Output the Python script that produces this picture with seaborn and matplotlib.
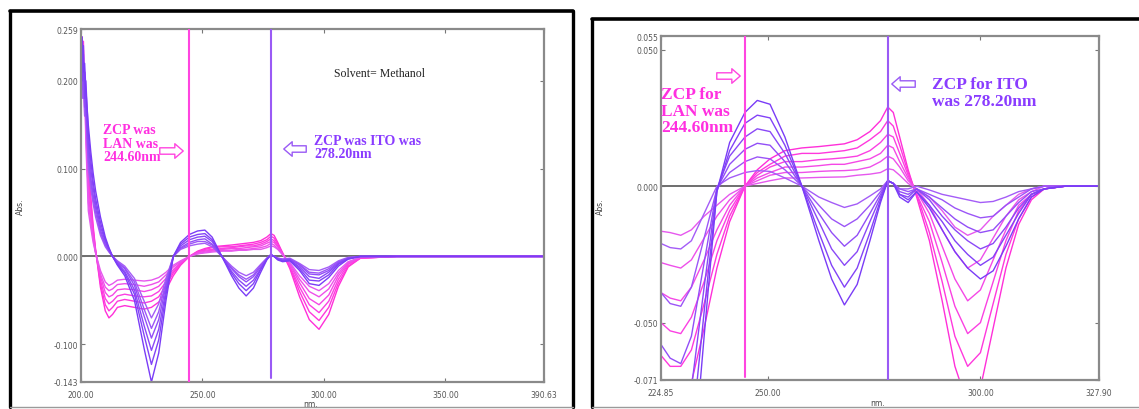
import numpy as np
import pandas as pd
import matplotlib
matplotlib.use("Agg")
import matplotlib.pyplot as plt
import seaborn as sns
from matplotlib.lines import Line2D

# ---------------- data : left panel (solvent methanol) ----------------
wl_left = [200.0, 200.5, 201.0, 201.5, 202.0, 203.0, 204.0, 205.0, 206.0, 208.0,
           210.0, 211.5, 213.0, 215.0, 218.0, 222.0, 226.0, 229.0, 232.0, 235.0,
           238.0, 241.0, 244.6, 248.0, 251.0, 254.0, 258.0, 262.0, 265.0, 268.0,
           271.0, 274.0, 276.5, 278.2, 279.5, 281.0, 283.0, 286.0, 290.0, 294.0,
           298.0, 302.0, 306.0, 310.0, 315.0, 330.0, 360.0, 390.63]

left_p0 = [0.255, 0.22, 0.235, 0.19, 0.16, 0.11, 0.07, 0.035, 0.008, -0.035,
           -0.062, -0.070, -0.066, -0.058, -0.056, -0.058, -0.060, -0.058, -0.052, -0.038,
           -0.022, -0.010, 0.000, 0.006, 0.009, 0.011, 0.012, 0.013, 0.014, 0.015,
           0.016, 0.018, 0.022, 0.026, 0.024, 0.016, 0.004, -0.014, -0.046, -0.072,
           -0.083, -0.066, -0.034, -0.012, -0.002, 0.0, 0.0, 0.0]
left_p1 = [0.24, 0.25, 0.20, 0.21, 0.15, 0.097, 0.062, 0.031, 0.007, -0.031,
           -0.055, -0.062, -0.058, -0.051, -0.049, -0.051, -0.053, -0.051, -0.046, -0.033,
           -0.019, -0.009, 0.000, 0.005, 0.008, 0.010, 0.011, 0.011, 0.012, 0.013,
           0.014, 0.016, 0.019, 0.023, 0.021, 0.014, 0.004, -0.012, -0.040, -0.063,
           -0.073, -0.058, -0.030, -0.011, -0.002, 0.0, 0.0, 0.0]
left_p2 = [0.23, 0.20, 0.245, 0.17, 0.18, 0.085, 0.054, 0.027, 0.006, -0.027,
           -0.048, -0.054, -0.051, -0.045, -0.043, -0.045, -0.046, -0.045, -0.040, -0.029,
           -0.017, -0.008, 0.000, 0.005, 0.007, 0.008, 0.009, 0.010, 0.011, 0.012,
           0.012, 0.014, 0.017, 0.020, 0.018, 0.012, 0.003, -0.011, -0.035, -0.055,
           -0.064, -0.051, -0.026, -0.009, -0.002, 0.0, 0.0, 0.0]
left_p3 = [0.26, 0.21, 0.19, 0.20, 0.14, 0.073, 0.046, 0.023, 0.005, -0.023,
           -0.041, -0.046, -0.044, -0.038, -0.037, -0.038, -0.040, -0.038, -0.034, -0.025,
           -0.015, -0.007, 0.000, 0.004, 0.006, 0.007, 0.008, 0.009, 0.009, 0.010,
           0.011, 0.012, 0.015, 0.017, 0.016, 0.011, 0.003, -0.009, -0.030, -0.048,
           -0.055, -0.044, -0.022, -0.008, -0.001, 0.0, 0.0, 0.0]
left_p4 = [0.21, 0.24, 0.22, 0.16, 0.17, 0.062, 0.039, 0.020, 0.004, -0.020,
           -0.035, -0.039, -0.037, -0.032, -0.031, -0.032, -0.034, -0.032, -0.029, -0.021,
           -0.012, -0.006, 0.000, 0.003, 0.005, 0.006, 0.007, 0.007, 0.008, 0.008,
           0.009, 0.010, 0.012, 0.015, 0.013, 0.009, 0.002, -0.008, -0.026, -0.040,
           -0.046, -0.037, -0.019, -0.007, -0.001, 0.0, 0.0, 0.0]
left_p5 = [0.20, 0.23, 0.18, 0.19, 0.13, 0.052, 0.033, 0.016, 0.004, -0.016,
           -0.029, -0.033, -0.031, -0.027, -0.026, -0.027, -0.028, -0.027, -0.024, -0.018,
           -0.010, -0.005, 0.000, 0.003, 0.004, 0.005, 0.006, 0.006, 0.007, 0.007,
           0.008, 0.008, 0.010, 0.012, 0.011, 0.008, 0.002, -0.007, -0.022, -0.034,
           -0.039, -0.031, -0.016, -0.006, -0.001, 0.0, 0.0, 0.0]

left_u0 = [0.24, 0.25, 0.21, 0.22, 0.19, 0.15, 0.12, 0.095, 0.075, 0.045,
           0.022, 0.010, 0.000, -0.010, -0.022, -0.050, -0.105, -0.143, -0.110, -0.050,
           0.000, 0.016, 0.025, 0.029, 0.030, 0.022, 0.000, -0.022, -0.036, -0.045,
           -0.036, -0.018, -0.004, 0.002, 0.000, -0.004, -0.006, -0.005, -0.016, -0.031,
           -0.033, -0.024, -0.011, -0.003, 0.000, 0.0, 0.0, 0.0]
left_u1 = [0.22, 0.20, 0.24, 0.18, 0.20, 0.14, 0.11, 0.085, 0.066, 0.039,
           0.019, 0.009, 0.000, -0.009, -0.019, -0.043, -0.090, -0.123, -0.095, -0.043,
           0.000, 0.014, 0.022, 0.025, 0.026, 0.019, 0.000, -0.019, -0.031, -0.039,
           -0.031, -0.015, -0.003, 0.002, 0.000, -0.003, -0.005, -0.004, -0.014, -0.027,
           -0.028, -0.021, -0.009, -0.003, 0.000, 0.0, 0.0, 0.0]
left_u2 = [0.25, 0.23, 0.20, 0.21, 0.17, 0.13, 0.10, 0.078, 0.060, 0.034,
           0.017, 0.008, 0.000, -0.008, -0.017, -0.038, -0.079, -0.107, -0.083, -0.038,
           0.000, 0.012, 0.019, 0.022, 0.023, 0.017, 0.000, -0.017, -0.027, -0.034,
           -0.027, -0.014, -0.003, 0.002, 0.000, -0.003, -0.005, -0.004, -0.012, -0.023,
           -0.025, -0.018, -0.008, -0.002, 0.000, 0.0, 0.0, 0.0]
left_u3 = [0.21, 0.19, 0.23, 0.17, 0.18, 0.12, 0.09, 0.070, 0.055, 0.030,
           0.014, 0.007, 0.000, -0.007, -0.014, -0.033, -0.068, -0.093, -0.072, -0.033,
           0.000, 0.010, 0.016, 0.019, 0.020, 0.014, 0.000, -0.014, -0.023, -0.029,
           -0.023, -0.012, -0.003, 0.002, 0.000, -0.003, -0.004, -0.003, -0.010, -0.020,
           -0.021, -0.016, -0.007, -0.002, 0.000, 0.0, 0.0, 0.0]
left_u4 = [0.19, 0.22, 0.18, 0.20, 0.16, 0.11, 0.085, 0.065, 0.050, 0.027,
           0.013, 0.006, 0.000, -0.006, -0.013, -0.029, -0.060, -0.082, -0.063, -0.029,
           0.000, 0.009, 0.014, 0.017, 0.017, 0.013, 0.000, -0.013, -0.021, -0.026,
           -0.021, -0.010, -0.002, 0.002, 0.000, -0.002, -0.003, -0.003, -0.009, -0.018,
           -0.019, -0.014, -0.006, -0.002, 0.000, 0.0, 0.0, 0.0]
left_u5 = [0.23, 0.18, 0.20, 0.16, 0.17, 0.10, 0.078, 0.060, 0.045, 0.024,
           0.011, 0.005, 0.000, -0.005, -0.011, -0.025, -0.051, -0.070, -0.054, -0.025,
           0.000, 0.008, 0.012, 0.014, 0.015, 0.011, 0.000, -0.011, -0.018, -0.022,
           -0.018, -0.009, -0.002, 0.002, 0.000, -0.002, -0.003, -0.002, -0.008, -0.015,
           -0.016, -0.012, -0.005, -0.001, 0.000, 0.0, 0.0, 0.0]

left_xticks = [200.0, 250.0, 300.0, 350.0, 390.63]
left_yticks = [0.259, 0.200, 0.100, 0.000, -0.100, -0.143]

# ---------------- data : right panel ----------------
wl_right = [224.85, 227.0, 229.5, 232.0, 235.0, 238.0, 241.0, 244.6, 247.5, 250.5,
            254.0, 258.0, 262.0, 265.0, 268.0, 271.0, 274.0, 276.5, 278.2, 279.5,
            281.0, 283.0, 285.0, 288.0, 291.0, 294.0, 297.0, 300.0, 303.0, 306.0,
            309.0, 312.0, 315.0, 320.0, 327.9]

right_p0 = [-0.075, -0.079, -0.080, -0.072, -0.052, -0.030, -0.013, 0.000, 0.006, 0.010,
            0.013, 0.014, 0.0145, 0.015, 0.0155, 0.017, 0.020, 0.024, 0.029, 0.027,
            0.018, 0.006, -0.004, -0.020, -0.042, -0.066, -0.080, -0.074, -0.052, -0.030,
            -0.014, -0.005, -0.001, 0.000, 0.000]
right_p1 = [-0.062, -0.066, -0.066, -0.060, -0.043, -0.025, -0.011, 0.000, 0.005, 0.008,
            0.011, 0.012, 0.012, 0.0125, 0.013, 0.014, 0.017, 0.020, 0.024, 0.022,
            0.015, 0.005, -0.003, -0.017, -0.035, -0.055, -0.066, -0.061, -0.043, -0.025,
            -0.012, -0.004, -0.001, 0.000, 0.000]
right_p2 = [-0.050, -0.053, -0.054, -0.048, -0.035, -0.020, -0.009, 0.000, 0.004, 0.007,
            0.009, 0.009, 0.0097, 0.010, 0.0104, 0.011, 0.013, 0.016, 0.019, 0.018,
            0.012, 0.004, -0.003, -0.013, -0.028, -0.044, -0.054, -0.050, -0.035, -0.020,
            -0.009, -0.003, -0.001, 0.000, 0.000]
right_p3 = [-0.039, -0.041, -0.042, -0.037, -0.027, -0.016, -0.007, 0.000, 0.003, 0.005,
            0.007, 0.007, 0.0075, 0.008, 0.008, 0.009, 0.010, 0.012, 0.015, 0.014,
            0.009, 0.003, -0.002, -0.010, -0.022, -0.034, -0.042, -0.038, -0.027, -0.016,
            -0.007, -0.003, -0.001, 0.000, 0.000]
right_p4 = [-0.028, -0.029, -0.030, -0.027, -0.019, -0.011, -0.005, 0.000, 0.002, 0.004,
            0.005, 0.005, 0.0054, 0.0056, 0.0057, 0.006, 0.007, 0.009, 0.011, 0.010,
            0.007, 0.002, -0.001, -0.007, -0.016, -0.024, -0.030, -0.027, -0.019, -0.011,
            -0.005, -0.002, 0.000, 0.000, 0.000]
right_p5 = [-0.0165, -0.017, -0.018, -0.016, -0.011, -0.007, -0.003, 0.000, 0.001, 0.002,
            0.003, 0.003, 0.0032, 0.0033, 0.0034, 0.004, 0.0044, 0.005, 0.0064, 0.006,
            0.004, 0.001, -0.001, -0.004, -0.009, -0.015, -0.018, -0.016, -0.011, -0.007,
            -0.003, -0.001, 0.000, 0.000, 0.000]

right_u0 = [-0.115, -0.125, -0.130, -0.110, -0.055, -0.002, 0.016, 0.027, 0.0314, 0.030,
            0.018, 0.000, -0.020, -0.034, -0.0435, -0.036, -0.020, -0.006, 0.002, 0.001,
            -0.004, -0.006, -0.002, -0.008, -0.016, -0.024, -0.030, -0.034, -0.031, -0.022,
            -0.012, -0.004, -0.001, 0.000, 0.000]
right_u1 = [-0.097, -0.105, -0.109, -0.092, -0.046, -0.002, 0.013, 0.023, 0.026, 0.025,
            0.015, 0.000, -0.017, -0.029, -0.037, -0.030, -0.017, -0.005, 0.002, 0.001,
            -0.003, -0.005, -0.002, -0.007, -0.013, -0.020, -0.025, -0.029, -0.026, -0.018,
            -0.010, -0.003, -0.001, 0.000, 0.000]
right_u2 = [-0.077, -0.084, -0.087, -0.074, -0.037, -0.001, 0.011, 0.018, 0.021, 0.020,
            0.012, 0.000, -0.013, -0.023, -0.029, -0.024, -0.013, -0.004, 0.002, 0.001,
            -0.003, -0.004, -0.001, -0.005, -0.011, -0.016, -0.020, -0.023, -0.021, -0.015,
            -0.008, -0.003, -0.001, 0.000, 0.000]
right_u3 = [-0.058, -0.063, -0.065, -0.055, -0.028, -0.001, 0.008, 0.0135, 0.0157, 0.015,
            0.009, 0.000, -0.010, -0.017, -0.022, -0.018, -0.010, -0.003, 0.002, 0.001,
            -0.002, -0.003, -0.001, -0.004, -0.008, -0.012, -0.015, -0.017, -0.016, -0.011,
            -0.006, -0.002, -0.001, 0.000, 0.000]
right_u4 = [-0.039, -0.043, -0.044, -0.037, -0.019, -0.001, 0.005, 0.009, 0.0107, 0.010,
            0.006, 0.000, -0.007, -0.012, -0.0148, -0.012, -0.007, -0.002, 0.002, 0.001,
            -0.001, -0.002, -0.001, -0.003, -0.005, -0.008, -0.010, -0.0116, -0.011, -0.007,
            -0.004, -0.001, 0.000, 0.000, 0.000]
right_u5 = [-0.021, -0.0225, -0.023, -0.020, -0.010, 0.000, 0.003, 0.005, 0.0057, 0.0054,
            0.003, 0.000, -0.004, -0.006, -0.0078, -0.0065, -0.0036, -0.001, 0.002, 0.001,
            -0.001, -0.001, 0.000, -0.0014, -0.003, -0.004, -0.005, -0.006, -0.0056, -0.004,
            -0.002, -0.001, 0.000, 0.000, 0.000]

right_xticks = [224.85, 250.0, 300.0, 327.90]
right_yticks = [0.055, 0.050, 0.000, -0.050, -0.071]

zcp_lan = 244.6
zcp_ito = 278.2

# ---------------- styling ----------------
PINKS = ["#ff2fd9", "#ff38dd", "#fb40e2", "#f548e6", "#ee50ea", "#e658ee"]
PURPLES = ["#7a3cf7", "#8242f7", "#8a48f7", "#924ef7", "#9b55f7", "#a45cf7"]
PINK_TXT = "#ff2fe0"
PURPLE_TXT = "#8a3cff"

sns.set_theme(style="white")
plt.rcParams["font.family"] = ["DejaVu Sans"]

W, H = 1139, 410
fig = plt.figure(figsize=(W / 100, H / 100), dpi=100)
fig.patch.set_facecolor("white")


def fx(px):
    return px / W


def fy(py):
    return 1 - py / H


def long_df(wl, curves):
    rows = []
    for name, vals in curves.items():
        assert len(vals) == len(wl), name
        for w, v in zip(wl, vals):
            rows.append((name, w, v))
    return pd.DataFrame(rows, columns=["curve", "wl", "abs"])


left_curves = {"p0": left_p0, "p1": left_p1, "p2": left_p2, "p3": left_p3,
               "p4": left_p4, "p5": left_p5,
               "u5": left_u5, "u4": left_u4, "u3": left_u3, "u2": left_u2,
               "u1": left_u1, "u0": left_u0}
right_curves = {"p0": right_p0, "p1": right_p1, "p2": right_p2, "p3": right_p3,
                "p4": right_p4, "p5": right_p5,
                "u5": right_u5, "u4": right_u4, "u3": right_u3, "u2": right_u2,
                "u1": right_u1, "u0": right_u0}
palette = {f"p{i}": PINKS[i] for i in range(6)}
palette.update({f"u{i}": PURPLES[i] for i in range(6)})

axL = fig.add_axes([fx(81), fy(383), fx(544) - fx(81), fy(30) - fy(383)])
axR = fig.add_axes([fx(661), fy(381), fx(1099) - fx(661), fy(37) - fy(381)])

for ax, wl, curves, xl, yl, xt, yt in [
        (axL, wl_left, left_curves, (200.0, 390.63), (-0.143, 0.259), left_xticks, left_yticks),
        (axR, wl_right, right_curves, (224.85, 327.90), (-0.071, 0.055), right_xticks, right_yticks)]:
    df = long_df(wl, curves)
    ax.axhline(0, color="#6e6e6e", lw=1.4, zorder=1)
    sns.lineplot(data=df, x="wl", y="abs", hue="curve", palette=palette,
                 estimator=None, sort=False, legend=False, lw=1.0, ax=ax, zorder=2)
    ax.set_xlim(*xl)
    ax.set_ylim(*yl)
    ax.set_xticks(xt)
    ax.set_xticklabels([f"{v:.2f}" for v in xt])
    ax.set_yticks(yt)
    ax.set_yticklabels([f"{v:.3f}" for v in yt])
    ax.set_xlabel("")
    ax.set_ylabel("")
    ax.tick_params(direction="in", length=3, width=0.8, color="#777777",
                   labelcolor="#555555", labelsize=5.5, pad=2,
                   top=True, right=True, bottom=True, left=True)
    ax.tick_params(axis="x", pad=6)
    for s in ax.spines.values():
        s.set_color("#8a8a8a")
        s.set_linewidth(1.6)
    ax.set_facecolor("white")

# zero-crossing marker lines
axL.axvline(zcp_lan, color="#ff45e0", lw=1.5, zorder=3)
axL.axvline(zcp_ito, color="#9a5af5", lw=1.5, ymin=0.01, zorder=3)
axR.axvline(zcp_lan, color="#ff45e0", lw=1.5, ymin=0.01, zorder=3)
axR.axvline(zcp_ito, color="#9a5af5", lw=1.5, zorder=3)

# axis labels
lab = dict(fontsize=5.5, color="#444444")
fig.text(fx(20), fy(207), "Abs.", rotation=90, ha="center", va="center", **lab)
fig.text(fx(311), fy(405), "nm.", ha="center", va="center", **lab)
fig.text(fx(600), fy(207), "Abs.", rotation=90, ha="center", va="center", **lab)
fig.text(fx(878), fy(404), "nm.", ha="center", va="center", **lab)

serif = dict(family="Liberation Serif", weight="bold")

# left annotations
fig.text(fx(103), fy(124), "ZCP was\nLAN was\n244.60nm", color=PINK_TXT,
         fontsize=10, linespacing=1.05, ha="left", va="top", **serif)
fig.text(fx(314), fy(135), "ZCP was ITO was\n278.20nm", color=PURPLE_TXT,
         fontsize=10, linespacing=1.05, ha="left", va="top", **serif)
fig.text(fx(379), fy(74), "Solvent= Methanol", color="#222222", fontsize=8.5,
         ha="center", va="center", family="Liberation Serif")

# right annotations
fig.text(fx(661), fy(87), "ZCP for\nLAN was\n244.60nm", color=PINK_TXT,
         fontsize=12.5, linespacing=1.05, ha="left", va="top", **serif)
fig.text(fx(932), fy(77), "ZCP for ITO\nwas 278.20nm", color=PURPLE_TXT,
         fontsize=12.5, linespacing=1.05, ha="left", va="top", **serif)


def hollow_arrow(x0, y0, x1, y1, color, scale=11):
    fig.add_artist(matplotlib.patches.FancyArrowPatch(
        (fx(x0), fy(y0)), (fx(x1), fy(y1)), transform=fig.transFigure,
        arrowstyle="simple,head_length=0.55,head_width=0.95,tail_width=0.42",
        mutation_scale=scale, fc="white", ec=color, lw=1.0, zorder=5))


hollow_arrow(157, 152, 186, 152, "#ff45e0")
hollow_arrow(309, 150, 281, 150, "#9a5af5")
hollow_arrow(714, 77, 743, 77, "#ff45e0")
hollow_arrow(918, 85, 889, 85, "#9a5af5")

# panel frames
def frame(x0, y0, x1, y1):
    for xs, ys, c, w in [((x0, x0), (y0, y1), "black", 2.4),
                         ((x0, x1), (y0, y0), "black", 2.6),
                         ((x1, x1), (y0, y1), "black", 2.4),
                         ((x0, x1), (y1, y1), "#9a9a9a", 1.0)]:
        fig.add_artist(Line2D([fx(v) for v in xs], [fy(v) for v in ys],
                              transform=fig.transFigure, color=c, lw=w))


frame(10, 12, 573, 408)
frame(592, 20, 1160, 408)

fig.savefig("out.png", dpi=100, facecolor="white")
